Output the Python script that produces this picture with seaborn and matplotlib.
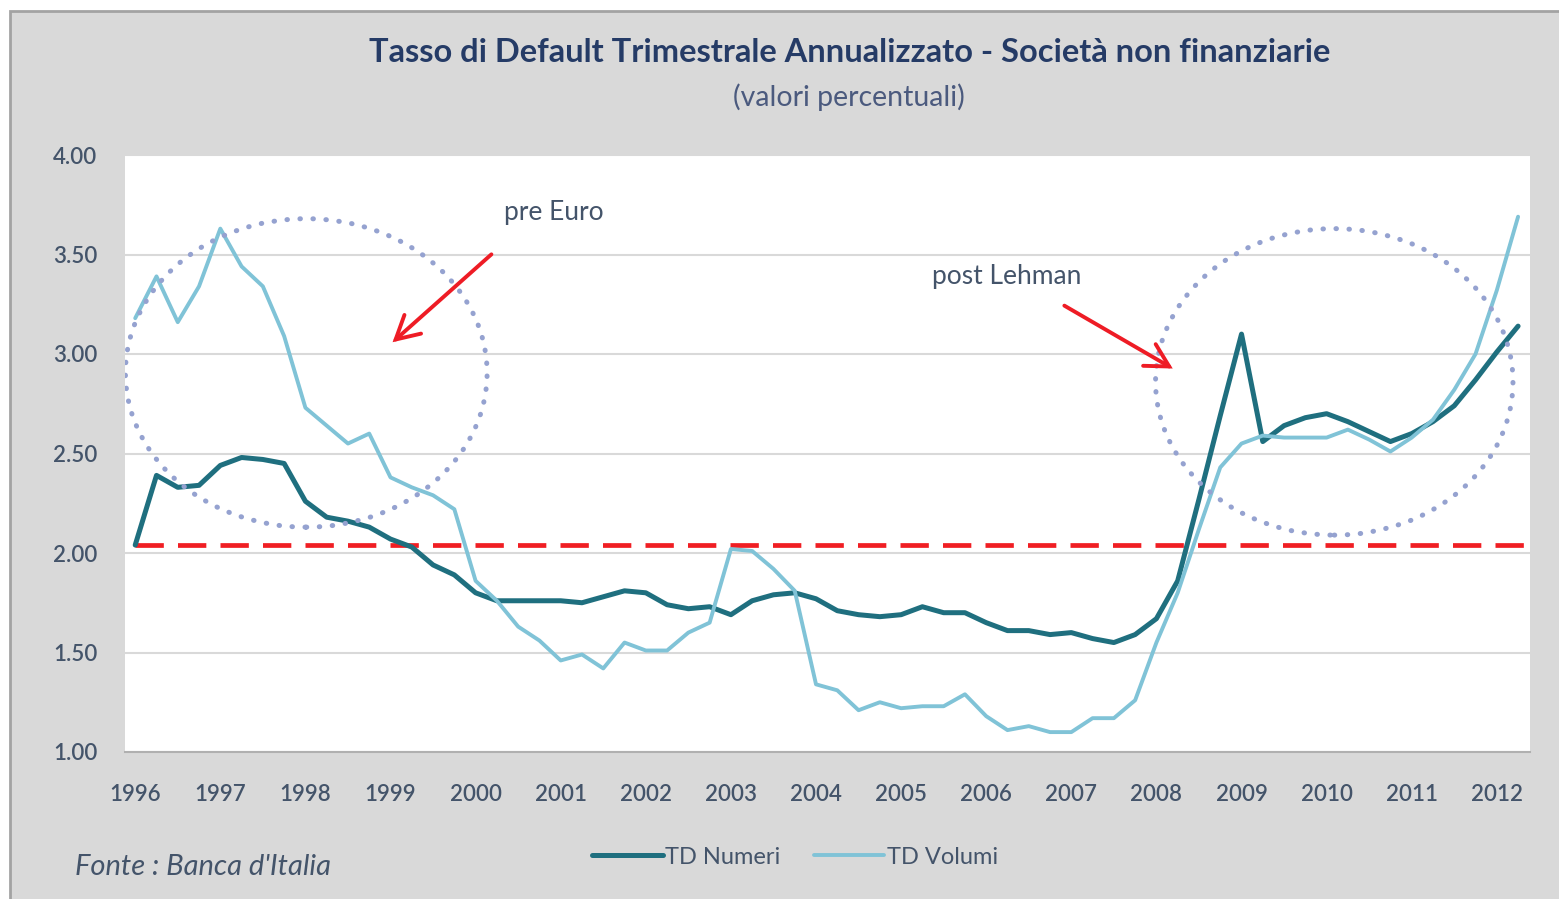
import numpy as np
import pandas as pd
import matplotlib
matplotlib.use('Agg')
import matplotlib.pyplot as plt
from matplotlib.patches import Ellipse, Rectangle
import seaborn as sns

# quarterly default rates, 1996Q1 - 2012Q2
td_numeri = [2.04, 2.39, 2.33, 2.34, 2.44, 2.48, 2.47, 2.45, 2.26, 2.18, 2.16, 2.13,
             2.07, 2.03, 1.94, 1.89, 1.80, 1.76, 1.76, 1.76, 1.76, 1.75, 1.78, 1.81,
             1.80, 1.74, 1.72, 1.73, 1.69, 1.76, 1.79, 1.80, 1.77, 1.71, 1.69, 1.68,
             1.69, 1.73, 1.70, 1.70, 1.65, 1.61, 1.61, 1.59, 1.60, 1.57, 1.55, 1.59,
             1.67, 1.86, 2.27, 2.69, 3.10, 2.56, 2.64, 2.68, 2.70, 2.66, 2.61, 2.56,
             2.60, 2.66, 2.74, 2.87, 3.01, 3.14]
td_volumi = [3.18, 3.39, 3.16, 3.34, 3.63, 3.44, 3.34, 3.09, 2.73, 2.64, 2.55, 2.60,
             2.38, 2.33, 2.29, 2.22, 1.86, 1.76, 1.63, 1.56, 1.46, 1.49, 1.42, 1.55,
             1.51, 1.51, 1.60, 1.65, 2.02, 2.01, 1.92, 1.81, 1.34, 1.31, 1.21, 1.25,
             1.22, 1.23, 1.23, 1.29, 1.18, 1.11, 1.13, 1.10, 1.10, 1.17, 1.17, 1.26,
             1.55, 1.80, 2.12, 2.43, 2.55, 2.59, 2.58, 2.58, 2.58, 2.62, 2.57, 2.51,
             2.58, 2.67, 2.82, 3.00, 3.32, 3.69]
periods = pd.period_range('1996Q1', periods=len(td_numeri), freq='Q')
threshold = 2.04
years = list(range(1996, 2013))
yticks = [1.00, 1.50, 2.00, 2.50, 3.00, 3.50, 4.00]

quarters = periods.year + (periods.quarter - 1) / 4
df = pd.DataFrame({'t': quarters, 'TD Numeri': td_numeri, 'TD Volumi': td_volumi})
long = df.melt(id_vars='t', var_name='serie', value_name='tasso')

sns.set_theme(style='white')
plt.rcParams['font.family'] = ['Lato', 'DejaVu Sans']

text_col = '#44546a'
dark = '#1f6f7f'
light = '#80c3d7'

fig = plt.figure(figsize=(15.59, 8.99), dpi=100)
fig.patch.set_facecolor('white')
frame = Rectangle((10/1559, -0.05), 1.1, 1 - 11/899 + 0.05, transform=fig.transFigure,
                  facecolor='#d9d9d9', edgecolor='#a3a3a3', lw=2, zorder=-10)
fig.patches.append(frame)

ax = fig.add_axes([125/1559, 1 - 752/899, (1530 - 125)/1559, (752 - 155)/899])
ax.set_facecolor('white')

sns.lineplot(data=long, x='t', y='tasso', hue='serie', hue_order=['TD Numeri', 'TD Volumi'],
             palette=[dark, light], ax=ax, legend=False, zorder=3)
ax.lines[0].set_linewidth(3.6)
ax.lines[1].set_linewidth(2.8)
for ln in ax.lines[:2]:
    ln.set_solid_joinstyle('round')

ax.set_xlim(1995.88, 2012.39)
ax.set_ylim(1, 4)
ax.hlines(threshold, quarters[0], ax.get_xlim()[1], colors='#f01e23', lw=3.4,
          linestyles=(0, (6, 3)), zorder=2)

ax.set_yticks(yticks)
ax.set_yticklabels([f'{v:.2f}' for v in yticks])
ax.set_xticks(years)
ax.set_xticklabels([str(y) for y in years])
ax.tick_params(axis='both', length=0, labelsize=16, labelcolor=text_col)
ax.tick_params(axis='y', pad=20)
ax.tick_params(axis='x', pad=23)
for lab in ax.get_xticklabels() + ax.get_yticklabels():
    lab.set_fontweight('semibold')
ax.grid(axis='y', color='#d9d9d9', lw=1.5)
ax.set_axisbelow(True)
for s in ['left', 'right', 'top']:
    ax.spines[s].set_visible(False)
ax.spines['bottom'].set_color('#b0b0b0')
ax.spines['bottom'].set_linewidth(1.5)
ax.set_xlabel('')
ax.set_ylabel('')

# highlight circles
for cx, cy, w, h in [(1998.01, 2.905, 4.25, 1.55), (2010.09, 2.86, 4.2, 1.54)]:
    ax.add_patch(Ellipse((cx, cy), w, h, fill=False, edgecolor='#95a2d0', lw=3.6,
                         linestyle=(0, (0.1, 2.5)), capstyle='round', zorder=4))

arrow = dict(arrowstyle='->,head_length=0.55,head_width=0.3', color='#ee1c25', lw=2.8,
             mutation_scale=30, joinstyle='miter')
ax.annotate('', xy=(1999.0, 3.05), xytext=(2000.21, 3.51), arrowprops=arrow, zorder=5)
ax.annotate('', xy=(2008.22, 2.92), xytext=(2006.89, 3.25), arrowprops=arrow, zorder=5)
ax.text(2000.92, 3.71, 'pre Euro', ha='center', va='center', fontsize=19, color=text_col)
ax.text(2006.24, 3.39, 'post Lehman', ha='center', va='center', fontsize=19, color=text_col)

fig.text(850/1559, 1 - 52/899, 'Tasso di Default Trimestrale Annualizzato - Società non finanziarie',
         ha='center', va='center', fontsize=23.5, fontweight='bold', color='#253b66')
fig.text(849/1559, 1 - 97/899, '(valori percentuali)', ha='center', va='center',
         fontsize=20.5, color='#4b5a7e')
fig.text(75/1559, 1 - 867/899, "Fonte : Banca d'Italia", ha='left', va='center',
         fontsize=21, style='italic', color=text_col)

fig.legend(handles=ax.lines[:2], labels=['TD Numeri', 'TD Volumi'], loc='center',
           bbox_to_anchor=(795/1559, 1 - 857/899), ncol=2, frameon=False, fontsize=17,
           handlelength=3, handletextpad=0.1, columnspacing=1.4, labelcolor=text_col)

fig.savefig('out.png', dpi=100, facecolor=fig.get_facecolor())
